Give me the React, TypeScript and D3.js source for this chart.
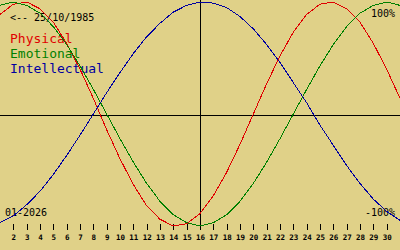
import React from "react";
import * as d3 from "d3";

const days: number[] = [1,2,3,4,5,6,7,8,9,10,11,12,13,14,15,16,17,18,19,20,21,22,23,24,25,26,27,28,29,30,31];
const tickDays: number[] = [2,3,4,5,6,7,8,9,10,11,12,13,14,15,16,17,18,19,20,21,22,23,24,25,26,27,28,29,30];

const physical: number[] = [89,98,100,94,82,63,40,14,-14,-40,-63,-82,-94,-100,-98,-89,-73,-52,-27,0,27,52,73,89,98,100,94,82,63,40,14];
const emotional: number[] = [97,100,97,90,78,62,43,22,0,-22,-43,-62,-78,-90,-97,-100,-97,-90,-78,-62,-43,-22,0,22,43,62,78,90,97,100,97];
const intellectual: number[] = [-97,-91,-81,-69,-54,-37,-19,0,19,37,54,69,81,91,97,100,99,95,87,76,62,46,28,10,-10,-28,-46,-62,-76,-87,-95];

const seriesNames: string[] = ["Physical", "Emotional", "Intellectual"];
const birthLabel = "<-- 25/10/1985";
const monthLabel = "01-2026";
const topLabel = "100%";
const bottomLabel = "-100%";

const W = 400;
const H = 250;
const BG = "rgb(224,209,136)";
const COLORS = ["#e00000", "#008000", "#0000a0"];
const MONO = "'DejaVu Sans Mono', 'Liberation Mono', monospace";

export default function App() {
  const x = d3.scaleLinear().domain([1, 31]).range([0, W]);
  const y = d3.scaleLinear().domain([-100, 100]).range([226, 2]);
  const series = [physical, emotional, intellectual];
  const line = d3
    .line<number>()
    .x((_, i) => x(days[i]))
    .y((v) => y(v))
    .curve(d3.curveLinear);

  return (
    <svg
      width={W}
      height={H}
      style={{ position: "absolute", left: 0, top: 0, display: "block" }}
    >
      <rect x={0} y={0} width={W} height={H} fill={BG} />
      <line x1={0} x2={W} y1={115.5} y2={115.5} stroke="#000" strokeWidth={1} shapeRendering="crispEdges" />
      <line x1={200.5} x2={200.5} y1={0} y2={230} stroke="#000" strokeWidth={1} shapeRendering="crispEdges" />
      {tickDays.map((d) => (
        <g key={d}>
          <line
            x1={Math.round(x(d)) + 0.5}
            x2={Math.round(x(d)) + 0.5}
            y1={224}
            y2={230}
            stroke="#000"
            strokeWidth={1}
            shapeRendering="crispEdges"
          />
          <text
            x={x(d) + 0.5}
            y={240}
            textAnchor="middle"
            fontFamily={MONO}
            fontSize={7.5}
            fontWeight="bold"
            fill="#000"
          >
            {d}
          </text>
        </g>
      ))}
      <text x={10} y={21} fontFamily={MONO} fontSize={10} fill="#000">
        {birthLabel}
      </text>
      {seriesNames.map((n, i) => (
        <text
          key={n}
          x={10}
          y={43 + i * 15}
          fontFamily={MONO}
          fontSize={13}
          fill={COLORS[i]}
        >
          {n}
        </text>
      ))}
      <text x={395} y={17} textAnchor="end" fontFamily={MONO} fontSize={10} fill="#000">
        {topLabel}
      </text>
      <text x={395} y={216} textAnchor="end" fontFamily={MONO} fontSize={10} fill="#000">
        {bottomLabel}
      </text>
      <text x={5} y={216} fontFamily={MONO} fontSize={10} fill="#000">
        {monthLabel}
      </text>
      {series.map((s, i) => (
        <path
          key={i}
          d={line(s) || ""}
          fill="none"
          stroke={COLORS[i]}
          strokeWidth={1}
          shapeRendering="crispEdges"
        />
      ))}
    </svg>
  );
}
